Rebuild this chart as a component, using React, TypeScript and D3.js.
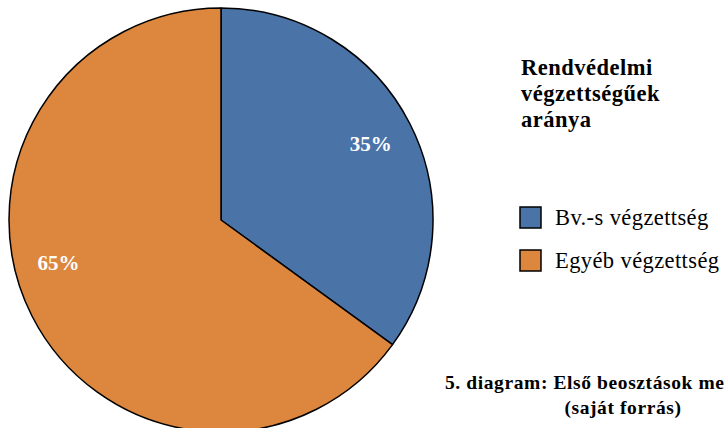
import React from "react";
import * as d3 from "d3";

const categories = ["Bv.-s végzettség", "Egyéb végzettség"];
const values = [35, 65];
const colors = ["#4a74a8", "#dd873e"];
const labelFractions = [0.5, 0.553];
const titleLines = ["Rendvédelmi", "végzettségűek", "aránya"];
const captionLines = ["5. diagram: Első beosztások megoszlása", "(saját forrás)"];

const FONT = "Liberation Serif";

export default function App() {
  const W = 724, H = 428;
  const cx = 221, cy = 220, r = 212;
  const pie = d3.pie<number>().sort(null).value((d) => d);
  const arcs = pie(values);
  const arc = d3.arc<d3.PieArcDatum<number>>().innerRadius(0).outerRadius(r);
  const labelR = 168;
  const total = d3.sum(values);
  return (
    <svg width={W} height={H} style={{ position: "absolute", left: 0, top: 0, fontFamily: FONT }}>
      <rect width={W} height={H} fill="#fff" />
      <g transform={`translate(${cx},${cy})`}>
        {arcs.map((a, i) => (
          <path key={i} d={arc(a) || ""} fill={colors[i]} stroke="#000" strokeWidth={1.5} strokeLinejoin="round" />
        ))}
        {arcs.map((a, i) => {
          const ang = a.startAngle + (a.endAngle - a.startAngle) * labelFractions[i];
          const x = Math.sin(ang) * labelR;
          const y = -Math.cos(ang) * labelR;
          return (
            <text key={i} x={x} y={y} dy="0.35em" textAnchor="middle" fill="#fff"
              style={{ fontFamily: FONT, fontWeight: "bold", fontSize: 21 }}>
              {Math.round((a.value / total) * 100)}%
            </text>
          );
        })}
      </g>
      {titleLines.map((t, i) => (
        <text key={i} x={521} y={75 + i * 26} fill="#000"
          style={{ fontFamily: FONT, fontWeight: "bold", fontSize: 22.5, letterSpacing: 0.5 }}>{t}</text>
      ))}
      {categories.map((c, i) => (
        <g key={i} transform={`translate(520,${207 + i * 43})`}>
          <rect x={0} y={0} width={21} height={21} fill={colors[i]} stroke="#000" strokeWidth={1.5} />
          <text x={35} y={18} fill="#000"
            style={{ fontFamily: FONT, fontSize: 22.5, letterSpacing: 0.4 }}>{c}</text>
        </g>
      ))}
      <text x={445} y={389} fill="#000"
        style={{ fontFamily: FONT, fontWeight: "bold", fontSize: 19.5, letterSpacing: 0.6 }}>{captionLines[0]}</text>
      <text x={623} y={414} textAnchor="middle" fill="#000"
        style={{ fontFamily: FONT, fontWeight: "bold", fontSize: 19.5, letterSpacing: 0.6 }}>{captionLines[1]}</text>
    </svg>
  );
}
